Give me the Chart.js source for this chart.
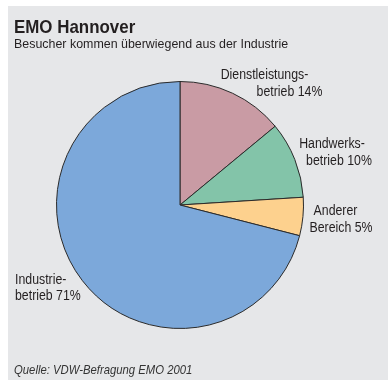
<!DOCTYPE html>
<html>
<head>
<meta charset="utf-8">
<script src="https://cdn.jsdelivr.net/npm/chart.js@4"></script>
<style>
  html, body { margin: 0; padding: 0; background: #fff; }
  #wrap { position: relative; width: 388px; height: 380px; }
</style>
</head>
<body>
<div id="wrap"><canvas id="chart" width="388" height="380"></canvas></div>
<script>
const categories = ['Dienstleistungsbetrieb', 'Handwerksbetrieb', 'Anderer Bereich', 'Industriebetrieb']
const shares = [14, 10, 5, 71]
const labelLines = [
  ['Dienstleistungs-', 'betrieb 14%'],
  ['Handwerks-', 'betrieb 10%'],
  ['Anderer', 'Bereich 5%'],
  ['Industrie-', 'betrieb 71%']
]
const sliceColors = ['#c99ba4', '#83c4a9', '#fdd18e', '#7ca8da']

const FONT = '"Liberation Sans", Arial, sans-serif'

// label line positions relative to the pie centre (px)
const labelPlacement = [
  [{ dx: 84.5, dy: -126.5, align: 'center' }, { dx: 109.5, dy: -109, align: 'center' }],
  [{ dx: 152, dy: -57.5, align: 'center' }, { dx: 159, dy: -40, align: 'center' }],
  [{ dx: 155.5, dy: 10, align: 'center' }, { dx: 161, dy: 26.5, align: 'center' }],
  [{ dx: -165, dy: 78.5, align: 'left' }, { dx: -165, dy: 95, align: 'left' }]
]

// condensed look: draw text squeezed horizontally
function narrowText(ctx, txt, x, y, font, sx, align) {
  ctx.save()
  ctx.font = font
  ctx.textAlign = align || 'left'
  ctx.translate(x, y)
  ctx.scale(sx, 1)
  ctx.fillText(txt, 0, 0)
  ctx.restore()
}

const panel = {
  id: 'panel',
  beforeDraw(chart) {
    const ctx = chart.ctx
    ctx.save()
    ctx.fillStyle = '#e6e7e9'
    ctx.fillRect(8, 6, chart.width - 8, chart.height - 6)
    ctx.restore()
  },
  afterDraw(chart) {
    const ctx = chart.ctx
    const arc = chart.getDatasetMeta(0).data[0]
    const cx = arc.x, cy = arc.y
    ctx.save()
    ctx.fillStyle = '#231f20'
    ctx.textBaseline = 'alphabetic'

    narrowText(ctx, 'EMO Hannover', 14, 33, 'bold 19px ' + FONT, 0.89)
    narrowText(ctx, 'Besucher kommen überwiegend aus der Industrie', 14, 47.5, '13.5px ' + FONT, 0.92)

    labelLines.forEach((lines, i) => {
      lines.forEach((txt, j) => {
        const p = labelPlacement[i][j]
        narrowText(ctx, txt, cx + p.dx, cy + p.dy, '14px ' + FONT, 0.88, p.align)
      })
    })

    ctx.fillStyle = '#333'
    narrowText(ctx, 'Quelle: VDW-Befragung EMO 2001', 14, 374, 'italic 13px ' + FONT, 0.87)
    ctx.restore()
  }
}

new Chart(document.getElementById('chart').getContext('2d'), {
  type: 'pie',
  data: {
    labels: categories,
    datasets: [{
      data: shares,
      backgroundColor: sliceColors,
      borderColor: '#2b2b2b',
      borderWidth: 1
    }]
  },
  options: {
    responsive: false,
    animation: false,
    layout: { padding: { top: 81, bottom: 51, left: 56, right: 84 } },
    plugins: {
      legend: { display: false },
      tooltip: { enabled: false }
    }
  },
  plugins: [panel]
})
</script>
</body>
</html>
